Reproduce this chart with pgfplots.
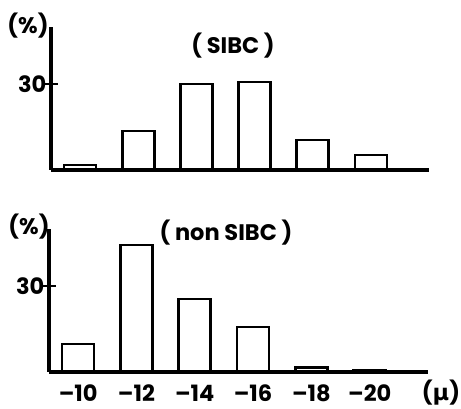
\documentclass[border=0pt]{standalone}
\usepackage{pgfplots}
\pgfplotsset{compat=1.18}
\usepackage{fontspec}
\setmainfont{Poppins}
\newfontfamily\greek{DejaVu Sans}

\newcommand{\lbl}{\fontsize{22.5}{24}\selectfont\bfseries}

\begin{document}
\begin{tikzpicture}[x=1pt,y=1pt]
\useasboundingbox (0,0) rectangle (461,409);
\pgfplotsset{
  hist/.style={
    scale only axis, anchor=south west,
    height=143.3pt,
    xmin=-0.5, xmax=6, ymin=0, ymax=50,
    axis x line=bottom, axis y line=left,
    axis line style={-, line width=3.2pt},
    axis on top,
    ytick={30}, yticklabels={30},
    tick align=center, major tick length=13pt,
    ytick style={line width=2.6pt, black},
    xtick={0,...,5}, xtick style={draw=none},
    yticklabel style={font=\lbl, inner sep=0pt, xshift=2pt},
    xticklabel style={font=\lbl, inner sep=0pt, anchor=north, yshift=0pt},
    ybar, bar width=32pt,
  },
  bars/.style={draw=black, fill=white, line width=2.6pt},
}

% (SIBC)
\begin{axis}[hist, at={(51pt,239pt)}, width=378pt, xticklabels={}]
\addplot[bars] coordinates {(0,1.7) (1,13.6) (2,30.0) (3,30.7) (4,10.5) (5,5.2)};
\end{axis}

% (non SIBC)
\begin{axis}[hist, at={(49pt,37pt)}, width=379pt,
  xticklabels={--10,--12,--14,--16,--18,--20}]
\addplot[bars] coordinates {(0,9.8) (1,44.3) (2,25.5) (3,15.7) (4,1.5) (5,0.7)};
\end{axis}

\node[font=\lbl] at (233,363) {( SIBC )};
\node[font=\lbl] at (226,176) {( non SIBC )};
\node[font=\lbl] at (28,383) {(\%)};
\node[font=\lbl] at (29,182) {(\%)};
\node[font=\lbl, inner sep=1pt] at (441,16) {({\greek\bfseries μ})};
\end{tikzpicture}
\end{document}
